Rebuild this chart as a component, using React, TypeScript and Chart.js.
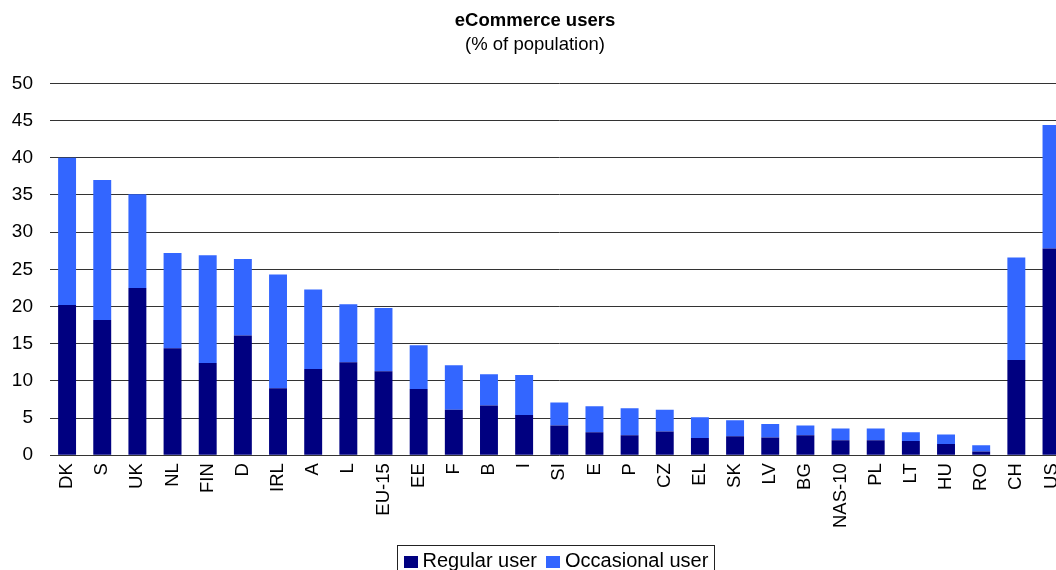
import React, { useEffect, useRef } from "react";
import { Chart, registerables } from "chart.js";

Chart.register(...registerables);

const categories = ["DK", "S", "UK", "NL", "FIN", "D", "IRL", "A", "L", "EU-15", "EE", "F", "B", "I", "SI", "E", "P", "CZ", "EL", "SK", "LV", "BG", "NAS-10", "PL", "LT", "HU", "RO", "CH", "US"];
const regularUser = [20.2, 18.2, 22.5, 14.4, 12.4, 16.1, 9.0, 11.6, 12.5, 11.3, 8.9, 6.1, 6.7, 5.4, 4.0, 3.1, 2.7, 3.2, 2.3, 2.55, 2.4, 2.7, 2.0, 2.0, 1.9, 1.5, 0.5, 12.8, 27.8];
const occasionalUser = [19.8, 18.8, 12.6, 12.8, 14.5, 10.3, 15.3, 10.7, 7.8, 8.5, 5.9, 6.0, 4.2, 5.4, 3.1, 3.5, 3.6, 2.9, 2.8, 2.15, 1.8, 1.3, 1.6, 1.6, 1.2, 1.3, 0.85, 13.8, 16.6];
const yTicks = [0, 5, 10, 15, 20, 25, 30, 35, 40, 45, 50];

const FONT = "'Liberation Sans', Arial, sans-serif";

const boxLegend = {
  id: "boxLegend",
  afterDraw(chart: any) {
    const ctx = chart.ctx;
    const area = chart.chartArea;
    const xs = chart.scales.x;
    const top = Math.round(xs.bottom + 17);
    ctx.save();
    ctx.font = `20px ${FONT}`;
    const items = chart.data.datasets.map((d: any) => ({
      label: d.label,
      color: d.backgroundColor,
      w: ctx.measureText(d.label).width,
    }));
    const sq = 14;
    const gap = 5;
    const itemGap = 9;
    const padL = 6;
    const padR = 6;
    let total = padL + padR;
    items.forEach((it: any, i: number) => {
      total += sq + gap + it.w + (i > 0 ? itemGap : 0);
    });
    const left = Math.round((area.left + area.right) / 2 - total / 2 - 4) + 0.5;
    ctx.strokeStyle = "#222";
    ctx.lineWidth = 1;
    ctx.strokeRect(left, top + 0.5, Math.round(total), 34);
    let x = left + padL;
    items.forEach((it: any, i: number) => {
      if (i > 0) x += itemGap;
      ctx.fillStyle = it.color;
      ctx.fillRect(Math.round(x), top + 11, sq, 12);
      x += sq + gap;
      ctx.fillStyle = "#000";
      ctx.textBaseline = "alphabetic";
      ctx.textAlign = "left";
      ctx.fillText(it.label, x, top + 22);
      x += it.w;
    });
    ctx.restore();
  },
};

export default function App() {
  const ref = useRef<HTMLCanvasElement>(null);
  useEffect(() => {
    if (!ref.current) return;
    const chart = new Chart(ref.current, {
      type: "bar",
      data: {
        labels: categories,
        datasets: [
          { label: "Regular user", data: regularUser, backgroundColor: "#000080", categoryPercentage: 1, barPercentage: 0.51 },
          { label: "Occasional user", data: occasionalUser, backgroundColor: "#3366FF", categoryPercentage: 1, barPercentage: 0.51 },
        ],
      },
      options: {
        responsive: false,
        animation: false,
        maintainAspectRatio: false,
        layout: { padding: { left: 0, right: 0, top: 0, bottom: 62 } },
        plugins: {
          legend: { display: false },
          tooltip: { enabled: false },
          title: {
            display: true,
            text: "eCommerce users",
            color: "#000",
            font: { family: FONT, size: 18.5, weight: "bold" },
            padding: { top: 10, bottom: 2 },
          },
          subtitle: {
            display: true,
            text: "(% of population)",
            color: "#000",
            font: { family: FONT, size: 18.5 },
            padding: { top: 0, bottom: 27 },
          },
        },
        scales: {
          x: {
            stacked: true,
            grid: { display: true, drawOnChartArea: false, drawTicks: true, tickLength: 8, tickColor: "rgba(0,0,0,0)", color: "rgba(0,0,0,0)" },
            border: { display: false },
            ticks: {
              color: "#000",
              font: { family: FONT, size: 18.5, lineHeight: 1 },
              minRotation: 90,
              maxRotation: 90,
              autoSkip: false,
              padding: 0,
            },
          },
          y: {
            stacked: true,
            min: 0,
            max: 50,
            afterBuildTicks: (axis: any) => {
              axis.ticks = yTicks.map((v) => ({ value: v }));
            },
            afterFit: (axis: any) => {
              axis.width = 49.5;
            },
            grid: { color: "#333", lineWidth: 1, drawTicks: false },
            border: { display: false },
            ticks: {
              color: "#000",
              font: { family: FONT, size: 19 },
              padding: 16.5,
            },
          },
        },
      },
      plugins: [boxLegend],
    });
    return () => chart.destroy();
  }, []);
  return (
    <div style={{ position: "fixed", left: 0, top: 0, width: 1056, height: 570, overflow: "hidden", background: "#fff" }}>
      <canvas ref={ref} width={1070} height={590} style={{ width: 1070, height: 590, display: "block" }} />
    </div>
  );
}
